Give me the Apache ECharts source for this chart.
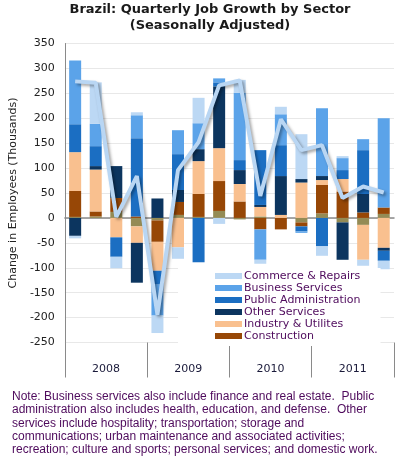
<!DOCTYPE html>
<html><head><meta charset="utf-8">
<script src="https://cdn.jsdelivr.net/npm/echarts@6/dist/echarts.min.js"></script>
<style>html,body{margin:0;padding:0;background:#fff}#c{width:405px;height:461px}</style>
</head><body><div id="c"></div>
<script>
const quarters = ['2008Q1','2008Q2','2008Q3','2008Q4','2009Q1','2009Q2','2009Q3','2009Q4','2010Q1','2010Q2','2010Q3','2010Q4','2011Q1','2011Q2','2011Q3','2011Q4'];
const years = ['2008','2009','2010','2011'];
const agriculture   = [2, 3, 12, -17, -5, 6, 2, 14, -3, 3, 0, -9, 9, -9, -14, 8];
const construction  = [52, 10, 28, 3, -43, 26, 46, 60, 33, -23, -23, -8, 57, 53, 11, 13];
const industry      = [78, 84, -39, -33, -58, -59, 66, 66, 35, 19, 6, 71, 10, 25, -70, -60];
const otherServices = [-36, 7, 64, -80, 39, 24, 24, 124, 28, 4, 78, 7, 8, -75, 37, -6];
const publicAdmin   = [56, 40, -39, 157, -28, 72, -89, 8, 20, 110, 62, -10, -57, 18, 88, -20];
const business      = [128, 45, 0, 46, -62, 48, 52, 8, 135, -61, 62, -3, 136, 24, 22, 179];
const commerce      = [-5, 83, -23, 6, -35, -23, 51, -12, 26, -8, 15, 90, -19, 4, -12, -17];
const total         = [274, 271, 2, 84, -194, 96, 152, 266, 276, 44, 198, 136, 146, 40, 63, 51];
const yTicks = {min: -250, max: 350, interval: 50};

const noteLines = [
 'Note: Business services also include finance and real estate.  Public',
 'administration also includes health, education, and defense.  Other',
 'services include hospitality; transportation; storage and',
 'communications; urban maintenance and associated activities;',
 'recreation; culture and sports; personal services; and domestic work.'
];

const chart = echarts.init(document.getElementById('c'), null, {renderer:'canvas'});
function bar(name, data, color){
  return {name, type:'bar', stack:'s', data, barWidth:12, xAxisIndex:0, yAxisIndex:0,
    itemStyle:{color}, emphasis:{disabled:true}};
}
const purple = '#4e0a5c';
chart.setOption({
  animation:false,
  grid:{left:62, right:11, top:43.5, bottom:118.5, containLabel:false},
  legend:{
    orient:'vertical', left:178, top:268,
    backgroundColor:'#fff', padding:[2,20,4,37],
    itemWidth:27, itemHeight:6, itemGap:0, icon:'rect',
    textStyle:{fontFamily:'DejaVu Sans', fontSize:11, color:purple, lineHeight:12, padding:[0,0,0,-3]},
    data:['Commerce & Repairs','Business Services','Public Administration','Other Services','Industry & Utilites','Construction']
  },
  xAxis:[
    {type:'category', data:quarters, position:'top', boundaryGap:true,
     axisLine:{onZero:true, lineStyle:{color:'#8a8a8a', width:1.5}},
     axisTick:{show:false}, axisLabel:{show:false}, splitLine:{show:false}},
    {type:'category', data:years, position:'bottom', boundaryGap:true,
     axisLine:{show:false, onZero:false},
     axisTick:{show:true, length:35, interval:0, lineStyle:{color:'#8a8a8a'}},
     axisLabel:{margin:21, fontFamily:'DejaVu Sans', fontSize:11, color:'#1a1a3a'},
     splitLine:{show:false}}
  ],
  yAxis:{type:'value', min:yTicks.min, max:yTicks.max, interval:yTicks.interval,
    name:'Change in Employees (Thousands)', nameLocation:'middle', nameRotate:90, nameGap:39,
    nameTextStyle:{fontFamily:'DejaVu Sans', fontSize:11, color:'#222'},
    axisLine:{show:true, lineStyle:{color:'#8a8a8a', width:1}},
    axisTick:{show:false},
    axisLabel:{margin:10, fontFamily:'DejaVu Sans', fontSize:11, color:'#222'},
    splitLine:{lineStyle:{color:'#e8e8e8'}}
  },
  series:[
    bar('Agriculture', agriculture, '#948b55'),
    bar('Construction', construction, '#974706'),
    bar('Industry & Utilites', industry, '#f9c08f'),
    bar('Other Services', otherServices, '#0c355f'),
    bar('Public Administration', publicAdmin, '#1b6ec2'),
    bar('Business Services', business, '#5ba3e9'),
    bar('Commerce & Repairs', commerce, '#bcd8f4'),
    {name:'Total', type:'line', data:total, xAxisIndex:0, yAxisIndex:0, symbol:'none', z:5,
     lineStyle:{color:'#b9d6f3', width:4, shadowColor:'rgba(0,0,0,0.35)', shadowBlur:3, shadowOffsetX:2, shadowOffsetY:2},
     emphasis:{disabled:true}}
  ],
  graphic:[
    {type:'text', x:210, y:2, style:{text:'Brazil: Quarterly Job Growth by Sector\n(Seasonally Adjusted)',
      font:'bold 13px "DejaVu Sans"', fill:'#1a1a1a', textAlign:'center', textVerticalAlign:'top', lineHeight:16}},
    {type:'text', x:12, y:390, style:{text:noteLines.join('\n'), font:'12px "Liberation Sans"', fill:purple,
      textAlign:'left', textVerticalAlign:'top', lineHeight:13.3}}
  ]
});
</script></body></html>
